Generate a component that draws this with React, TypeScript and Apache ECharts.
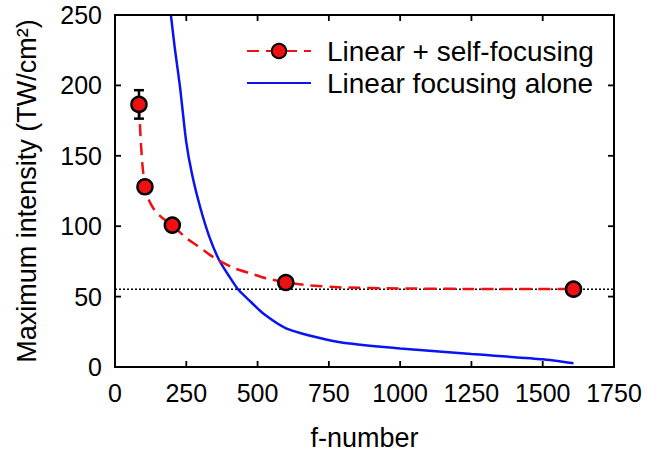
import React, { useEffect, useRef } from "react";
import * as echarts from "echarts";

// Measured points (Linear + self-focusing)
const pointX = [84, 105, 201, 599, 1608];
const pointY = [186.5, 128, 100.8, 60, 55.3];
// Error bars
const errX = [84, 105];
const errLow = [176.4, 123.5];
const errHigh = [196.6, 132.3];
// Fit curve (dashed red)
const fitX = [84, 90, 96, 105, 120, 140, 165, 201, 250, 290, 330, 370, 420, 475, 530, 600, 680, 800, 1000, 1200, 1400, 1608];
const fitY = [186, 162, 144, 128, 118, 111, 106, 100.8, 91.5, 86, 80, 75, 70, 66.5, 63, 60, 58, 56.5, 55.8, 55.5, 55.4, 55.4];
// Linear focusing alone (blue)
const blueX = [196, 210, 228, 249, 270, 298, 330, 365, 400, 432, 470, 520, 600, 700, 800, 1000, 1250, 1500, 1608];
const blueY = [250, 226, 199, 161, 137, 114, 93, 76, 64.5, 55, 47.5, 38, 27.5, 21.5, 17.3, 13.2, 9.2, 5.5, 2.6];
// Reference level (dotted)
const refLevel = 55.2;
const xTicks = { min: 0, max: 1750, interval: 250 };
const yTicks = { min: 0, max: 250, interval: 50 };
const xTickValues = [0, 250, 500, 750, 1000, 1250, 1500, 1750];
const yTickValues = [0, 50, 100, 150, 200, 250];

const FONT = "Liberation Sans, Arial, sans-serif";

export default function App() {
  const ref = useRef<HTMLDivElement>(null);
  useEffect(() => {
    if (!ref.current) return;
    const chart = echarts.init(ref.current, null, { renderer: "svg" });
    const labelStyle = () => ({
      show: true,
      color: "#000",
      fontSize: 25,
      fontFamily: FONT,
      margin: 13,
      formatter: (v: number) => String(v),
    });
    chart.setOption({
      animation: false,
      grid: { left: 115, right: 34, top: 15, bottom: 88, outerBoundsMode: "none" },
      legend: {
        left: 246,
        top: 37,
        orient: "vertical",
        padding: 0,
        itemGap: 4,
        itemWidth: 64,
        itemHeight: 18,
        data: [
          { name: "Linear + self-focusing" },
          { name: "Linear focusing alone", itemStyle: { opacity: 0 } },
        ],
        textStyle: { color: "#000", fontSize: 28, fontFamily: FONT, padding: [0, 0, 0, 11] },
      },
      xAxis: {
        type: "value",
        ...xTicks,
        axisLine: { show: false },
        axisTick: { show: false },
        splitLine: { show: false },
        axisLabel: labelStyle(),
        name: "f-number",
        nameLocation: "middle",
        nameGap: 57,
        nameTextStyle: { color: "#000", fontSize: 27, fontFamily: FONT },
      },
      yAxis: {
        type: "value",
        ...yTicks,
        axisLine: { show: false },
        axisTick: { show: false },
        splitLine: { show: false },
        axisLabel: labelStyle(),
        name: "Maximum intensity (TW/cm²)",
        nameLocation: "middle",
        nameGap: 75,
        nameRotate: 90,
        nameTextStyle: { color: "#000", fontSize: 27, fontFamily: FONT },
      },
      series: [
        {
          type: "line",
          name: "ref",
          data: [[xTicks.min, refLevel], [xTicks.max, refLevel]],
          symbol: "none",
          lineStyle: { color: "#000", width: 1.5, type: [2, 2] },
          silent: true,
        },
        {
          type: "line",
          name: "Linear focusing alone",
          data: blueX.map((x, i) => [x, blueY[i]]),
          symbol: "none",
          smooth: 0.2,
          lineStyle: { color: "#0a14f0", width: 2.5 },
          itemStyle: { color: "#0a14f0" },
          z: 3,
        },
        {
          type: "line",
          name: "Linear + self-focusing",
          data: fitX.map((x, i) => ({ value: [x, fitY[i]], symbol: "none" })),
          symbol: "circle",
          symbolSize: 15,
          showSymbol: true,
          smooth: 0.2,
          lineStyle: { color: "#ee1111", width: 2.5, type: [12, 7] },
          itemStyle: { color: "#ee1111", borderColor: "#000", borderWidth: 2.5 },
          z: 4,
        },
        {
          type: "custom",
          name: "err",
          data: errX.map((x, i) => [x, errLow[i], errHigh[i]]),
          renderItem: (params: any, api: any) => {
            const lo = api.coord([api.value(0), api.value(1)]);
            const hi = api.coord([api.value(0), api.value(2)]);
            const w = 5;
            const st = { stroke: "#000", lineWidth: 2.5 };
            return {
              type: "group",
              children: [
                { type: "line", shape: { x1: lo[0], y1: lo[1], x2: hi[0], y2: hi[1] }, style: st },
                { type: "line", shape: { x1: lo[0] - w, y1: lo[1], x2: lo[0] + w, y2: lo[1] }, style: st },
                { type: "line", shape: { x1: hi[0] - w, y1: hi[1], x2: hi[0] + w, y2: hi[1] }, style: st },
              ],
            };
          },
          z: 5,
        },
        {
          type: "scatter",
          name: "points",
          data: pointX.map((x, i) => [x, pointY[i]]),
          symbol: "circle",
          symbolSize: 15,
          itemStyle: { color: "#ee1111", borderColor: "#000", borderWidth: 2.5, opacity: 1 },
          z: 6,
        },
      ],
    });

    // Frame and inward ticks on all four sides, positioned through the axis scales
    const bl = chart.convertToPixel({ gridIndex: 0 }, [xTicks.min, yTicks.min]) as number[];
    const tr = chart.convertToPixel({ gridIndex: 0 }, [xTicks.max, yTicks.max]) as number[];
    const L = 6;
    const st = { stroke: "#000", lineWidth: 1.8, fill: null };
    const els: any[] = [
      {
        type: "rect",
        shape: { x: bl[0], y: tr[1], width: tr[0] - bl[0], height: bl[1] - tr[1] },
        style: { stroke: "#000", lineWidth: 2, fill: "none" },
        z: 100,
        silent: true,
      },
    ];
    xTickValues.forEach((v) => {
      const px = chart.convertToPixel({ xAxisIndex: 0 }, v) as number;
      els.push({ type: "line", shape: { x1: px, y1: bl[1], x2: px, y2: bl[1] - L }, style: st, z: 100, silent: true });
      els.push({ type: "line", shape: { x1: px, y1: tr[1], x2: px, y2: tr[1] + L }, style: st, z: 100, silent: true });
    });
    yTickValues.forEach((v) => {
      const py = chart.convertToPixel({ yAxisIndex: 0 }, v) as number;
      els.push({ type: "line", shape: { x1: bl[0], y1: py, x2: bl[0] + L, y2: py }, style: st, z: 100, silent: true });
      els.push({ type: "line", shape: { x1: tr[0], y1: py, x2: tr[0] - L, y2: py }, style: st, z: 100, silent: true });
    });
    chart.setOption({ graphic: { elements: els } });

    return () => chart.dispose();
  }, []);
  return <div ref={ref} style={{ position: "absolute", left: 0, top: 0, width: 648, height: 455 }} />;
}
